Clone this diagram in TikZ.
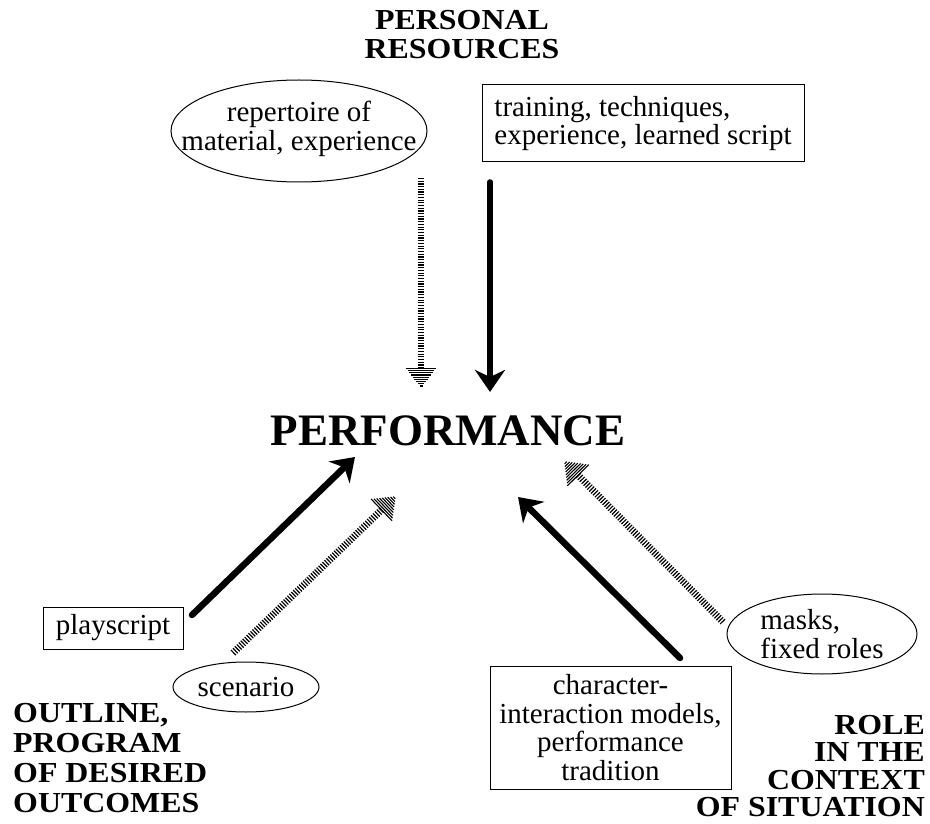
\documentclass[tikz,border=0pt]{standalone}
\usepackage{fontspec}
\setmainfont{Liberation Serif}
\newfontfamily\headfont[FakeStretch=1.1]{Liberation Serif}
\usetikzlibrary{shapes.geometric,arrows.meta,decorations.markings,calc}

\tikzset{
  txt/.style={font=\fontsize{29}{28.5}\selectfont, inner sep=0pt},
  outline/.style={draw, line width=1pt},
  frame/.style={txt, outline, rectangle},
  heading/.style={font=\headfont\bfseries\fontsize{29}{#1}\selectfont, inner sep=0pt},
  heading/.default=29,
  bold arrow/.style={line width=5.5pt, line cap=round,
    -{Stealth[length=22pt,width=30pt,inset=7pt]}},
  hatch shaft/.style={line width=#1, dash pattern=on 1.2pt off 1.5pt},
  hatch shaft/.default=7pt,
  hatch head/.style={postaction={decorate, decoration={markings,
    mark=at position 1 with {
      \foreach \i in {0,...,8}
        \draw[line width=1.1pt] ({-\i*2.2pt-1pt}, {-(1.5+\i*1.7)*1pt}) -- ({-\i*2.2pt-1pt}, {(1.5+\i*1.7)*1pt});
    }}}}
}

\begin{document}
\begin{tikzpicture}[x=1pt, y=-1pt]
  \useasboundingbox[fill=white] (0,0) rectangle (930,824);

  % headings
  \node[heading, align=center, anchor=north] (res) at (462,10) {PERSONAL\\RESOURCES};
  \node[heading=30, align=left, anchor=north west] (outl) at (13,703) {OUTLINE,\\PROGRAM\\OF DESIRED\\OUTCOMES};
  \node[heading=27.5, align=right, anchor=north east] (role) at (925,715) {ROLE\\IN THE\\CONTEXT\\OF SITUATION};
  \node[font=\bfseries\fontsize{45}{45}\selectfont, inner sep=0pt, anchor=base] (perf) at (448,445) {PERFORMANCE};

  % sources
  \node[txt, align=center] (rep) at (299,129) {repertoire of\\material, experience};
  \draw[outline] (299,131) ellipse [x radius=128, y radius=51];
  \node[frame, align=left, minimum width=322pt, minimum height=77pt] (train) at (643,123.5) {training, techniques,\\experience, learned script};
  \node[frame, minimum width=140pt, minimum height=42pt] (play) at (113,628) {playscript};
  \node[txt] (scen) at (246,687) {scenario};
  \draw[outline] (scen) ellipse [x radius=73, y radius=25];
  \node[txt, align=left] (mask) at (822,634) {masks,\\fixed roles};
  \draw[outline] (mask) ellipse [x radius=95, y radius=40];
  \node[frame, align=center, minimum width=241pt, minimum height=123pt] (char) at (610.5,727.5) {character-\\interaction models,\\performance\\tradition};

  % arrow end points
  \coordinate (s1a) at (490,182);  \coordinate (s1b) at (490,392);
  \coordinate (s2a) at (192,615);  \coordinate (s2b) at (355,457);
  \coordinate (s3a) at (680,658);  \coordinate (s3b) at (518,497);
  \coordinate (h1a) at (421,178);  \coordinate (h1b) at (421,387);
  \coordinate (h2a) at (233,653);  \coordinate (h2b) at (395,497);
  \coordinate (h3a) at (723,622);  \coordinate (h3b) at (565,462);

  % solid arrows
  \draw[bold arrow] (s1a) -- (s1b);
  \draw[bold arrow, line width=6.5pt] (s2a) -- (s2b);
  \draw[bold arrow, line width=6.5pt] (s3a) -- (s3b);

  % hatched arrows
  \draw[hatch shaft=6pt] (h1a) -- ($(h1b)!17pt!(h1a)$);
  \path[hatch head] (h1a) -- (h1b);
  \draw[hatch shaft] (h2a) -- ($(h2b)!17pt!(h2a)$);
  \path[hatch head] (h2a) -- (h2b);
  \draw[hatch shaft] (h3a) -- ($(h3b)!17pt!(h3a)$);
  \path[hatch head] (h3a) -- (h3b);
\end{tikzpicture}
\end{document}
